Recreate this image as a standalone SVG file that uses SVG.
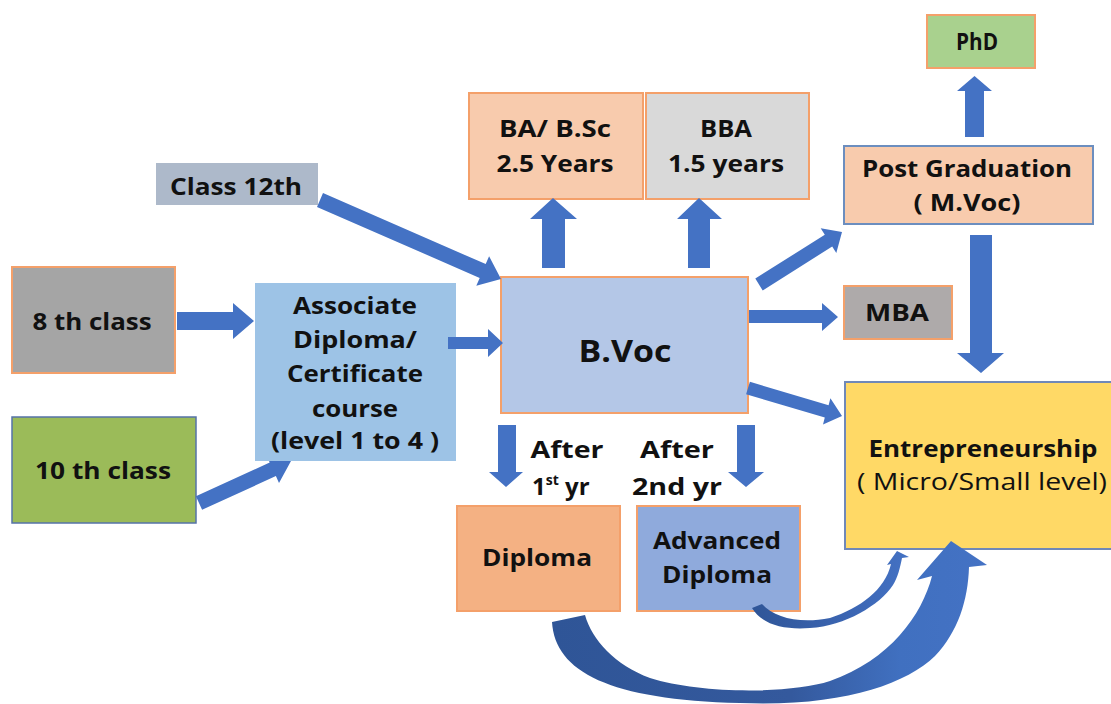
<svg xmlns="http://www.w3.org/2000/svg" width="1111" height="704" viewBox="0 0 1111 704">
<defs>
<linearGradient id="gBig" x1="552" y1="0" x2="987" y2="0" gradientUnits="userSpaceOnUse">
<stop offset="0" stop-color="#2f5597"/>
<stop offset="0.55" stop-color="#34599d"/>
<stop offset="0.8" stop-color="#4070c0"/>
<stop offset="1" stop-color="#4472c4"/>
</linearGradient>
<linearGradient id="gSmall" x1="751" y1="0" x2="910" y2="0" gradientUnits="userSpaceOnUse">
<stop offset="0" stop-color="#2f5597"/>
<stop offset="0.6" stop-color="#3b65b2"/>
<stop offset="1" stop-color="#4472c4"/>
</linearGradient>
</defs>
<style>
.t{font-family:"Open Sans","Liberation Sans",sans-serif;font-weight:700;font-size:24px;fill:#111;text-anchor:middle}
.n{font-weight:400}
.bo{stroke:#f4a06a;stroke-width:2}
.bb{stroke:#6c8ebf;stroke-width:2}
.ar{fill:#4472c4}
</style>
<rect width="1111" height="704" fill="#ffffff"/>

<g id="class12">
<rect x="156" y="163" width="162" height="42" fill="#adb9ca"/>
<text class="t" x="236" y="195" textLength="132" lengthAdjust="spacingAndGlyphs">Class 12th</text>
</g>
<g id="class8">
<rect x="12" y="267" width="163" height="106" fill="#a5a5a5" class="bo"/>
<text class="t" x="92" y="330" textLength="119" lengthAdjust="spacingAndGlyphs">8 th class</text>
</g>
<g id="class10">
<rect x="12" y="417" width="184" height="106" fill="#9bbb59" stroke="#5673a8" stroke-width="1.5"/>
<text class="t" x="103" y="479" textLength="136" lengthAdjust="spacingAndGlyphs">10 th class</text>
</g>
<g id="associate">
<rect x="255" y="283" width="201" height="178" fill="#9dc3e6"/>
<text class="t" x="355" y="314" textLength="124" lengthAdjust="spacingAndGlyphs">Associate</text>
<text class="t" x="355" y="348" textLength="124" lengthAdjust="spacingAndGlyphs">Diploma/</text>
<text class="t" x="355" y="382" textLength="136" lengthAdjust="spacingAndGlyphs">Certificate</text>
<text class="t" x="355" y="417" textLength="86" lengthAdjust="spacingAndGlyphs">course</text>
<text class="t" x="355" y="449" textLength="168" lengthAdjust="spacingAndGlyphs">(level 1 to 4 )</text>
</g>
<g id="bvoc">
<rect x="501" y="277" width="247" height="136" fill="#b4c7e7" class="bo"/>
<text class="t" x="625" y="362" style="font-size:31px" textLength="93" lengthAdjust="spacingAndGlyphs">B.Voc</text>
</g>
<g id="ba">
<rect x="469" y="93" width="174" height="106" fill="#f8cbad" class="bo"/>
<text class="t" x="555" y="137" textLength="112" lengthAdjust="spacingAndGlyphs">BA/ B.Sc</text>
<text class="t" x="555" y="172" textLength="117" lengthAdjust="spacingAndGlyphs">2.5 Years</text>
</g>
<g id="bba">
<rect x="646" y="93" width="163" height="106" fill="#d9d9d9" class="bo"/>
<text class="t" x="726" y="137" textLength="52" lengthAdjust="spacingAndGlyphs">BBA</text>
<text class="t" x="726" y="172" textLength="116" lengthAdjust="spacingAndGlyphs">1.5 years</text>
</g>
<g id="phd">
<rect x="927" y="15" width="108" height="53" fill="#a9d18e" class="bo"/>
<text class="t" x="977" y="50" textLength="42" lengthAdjust="spacingAndGlyphs">PhD</text>
</g>
<g id="postgrad">
<rect x="844" y="146" width="249" height="78" fill="#f8cbad" class="bb"/>
<text class="t" x="967" y="177" textLength="210" lengthAdjust="spacingAndGlyphs">Post Graduation</text>
<text class="t" x="967" y="211" textLength="107" lengthAdjust="spacingAndGlyphs">( M.Voc)</text>
</g>
<g id="mba">
<rect x="844" y="286" width="108" height="53" fill="#aeaaaa" class="bo"/>
<text class="t" x="897" y="321" textLength="64" lengthAdjust="spacingAndGlyphs">MBA</text>
</g>
<g id="entrepreneurship">
<rect x="845" y="382" width="270" height="167" fill="#ffd966" stroke="#7088b8" stroke-width="2"/>
<text class="t" x="983" y="457" textLength="229" lengthAdjust="spacingAndGlyphs">Entrepreneurship</text>
<text class="t n" x="982" y="490" textLength="250" lengthAdjust="spacingAndGlyphs">( Micro/Small level)</text>
</g>
<g id="diploma">
<rect x="457" y="506" width="163" height="105" fill="#f4b183" class="bo"/>
<text class="t" x="537" y="566" textLength="110" lengthAdjust="spacingAndGlyphs">Diploma</text>
</g>
<g id="advdiploma">
<rect x="637" y="506" width="163" height="105" fill="#8faadc" class="bo"/>
<text class="t" x="717" y="549" textLength="128" lengthAdjust="spacingAndGlyphs">Advanced</text>
<text class="t" x="717" y="583" textLength="110" lengthAdjust="spacingAndGlyphs">Diploma</text>
</g>
<g id="labels">
<text class="t" x="567" y="458" textLength="73" lengthAdjust="spacingAndGlyphs">After</text>
<text class="t" x="532" y="495" style="text-anchor:start">1<tspan font-size="14" dy="-10">st</tspan><tspan dy="10"> yr</tspan></text>
<text class="t" x="677" y="458" textLength="74" lengthAdjust="spacingAndGlyphs">After</text>
<text class="t" x="677" y="495" textLength="90" lengthAdjust="spacingAndGlyphs">2nd yr</text>
</g>

<g id="connectors">
<polygon class="ar" points="317,206.9 479.7,277.9 476.3,285.7 501,279 489.1,256.3 485.7,264.1 323,193.1"/>
<polygon class="ar" points="177,312 233,312 233,303 254,321 233,339 233,330 177,330"/>
<polygon class="ar" points="202.1,509.8 275.9,476.1 279,483 291,461 269,461 269.7,462.5 195.9,496.2"/>
<polygon class="ar" points="448,337 488,337 488,329 503,343 488,357 488,349 448,349"/>
<polygon class="ar" points="542,268 542,219 530,219 553,198 577,219 565,219 565,268"/>
<polygon class="ar" points="688,268 688,219 677,219 699,198 722,219 710,219 710,268"/>
<polygon class="ar" points="762.7,290.4 832.2,246.5 836.3,252.9 842,232 820.7,228.3 824.8,234.7 755.3,278.6"/>
<polygon class="ar" points="749,310 822,310 822,303 838,317 822,331 822,323 749,323"/>
<polygon class="ar" points="746.1,394.2 824.8,417.6 823,424.5 842,416 830.4,398.3 828.6,405.2 749.9,381.8"/>
<polygon class="ar" points="965,137 965,91 957,91 974.5,76 992,91 984,91 984,137"/>
<polygon class="ar" points="970,235 970,353 957,353 981,373 1004,353 992,353 992,235"/>
<polygon class="ar" points="498,425 498,472 489,472 506,487 523,472 516,472 516,425"/>
<polygon class="ar" points="737,425 737,472 728,472 746,487 764,472 755,472 755,425"/>
<path fill="url(#gBig)" d="M552,622 C555,672 610,700 740,703 C840,707 905,685 935,656 C958,632 968,600 969,567 L987,565 L951,541 L917,580 L932,576 C922,615 890,660 830,681 C790,694 700,694 650,678 C615,665 592,640 585,615 Z"/>
<path fill="url(#gSmall)" d="M752,608 C762,625 785,630 810,628 C845,626 880,605 893,585 C898,577 900,568 902,558 L909,557 L897,551 L887,565 L891,564 C885,590 860,608 830,618 C800,624 775,618 762,604 Z"/>
</g>
</svg>
